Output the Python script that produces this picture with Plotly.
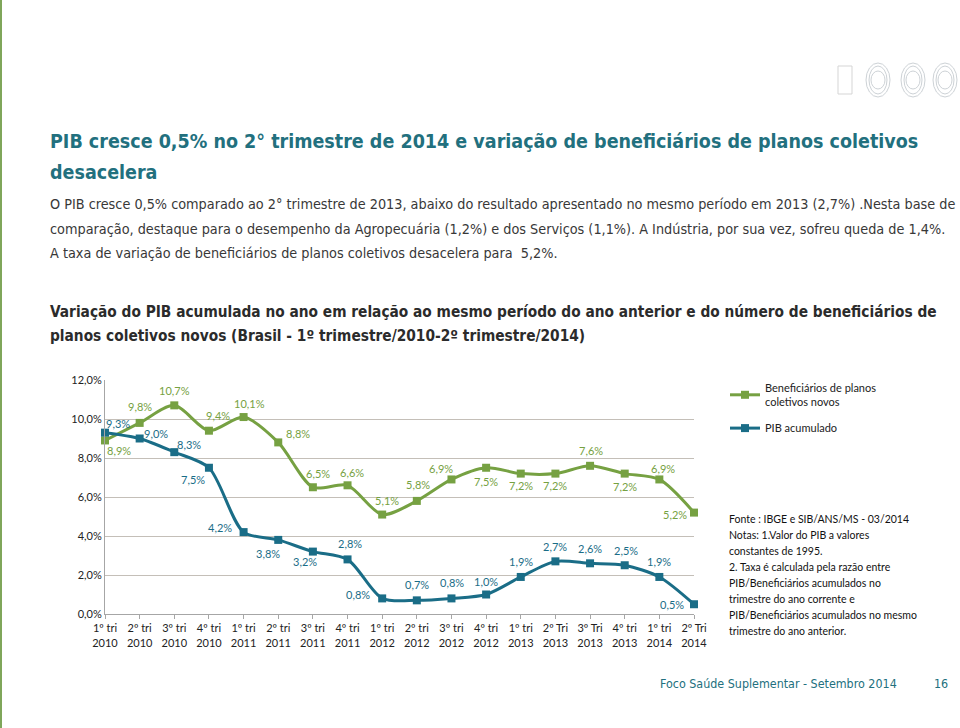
import plotly.graph_objects as go

# ---------------- data ----------------
quarters = ["1º tri", "2º tri", "3º tri", "4º tri",
            "1º tri", "2º tri", "3º tri", "4º tri",
            "1º tri", "2º tri", "3º tri", "4º tri",
            "1º tri", "2º Tri", "3º Tri", "4º tri",
            "1º tri", "2º Tri"]
years = ["2010"] * 4 + ["2011"] * 4 + ["2012"] * 4 + ["2013"] * 4 + ["2014"] * 2
beneficiarios = [8.9, 9.8, 10.7, 9.4, 10.1, 8.8, 6.5, 6.6, 5.1, 5.8,
                 6.9, 7.5, 7.2, 7.2, 7.6, 7.2, 6.9, 5.2]
pib = [9.3, 9.0, 8.3, 7.5, 4.2, 3.8, 3.2, 2.8, 0.8, 0.7,
       0.8, 1.0, 1.9, 2.7, 2.6, 2.5, 1.9, 0.5]
y_ticks = [0, 2, 4, 6, 8, 10, 12]
series_names = ["Beneficiários de planos<br>coletivos novos", "PIB acumulado"]

# label offsets in pixels (style only)
ben_off = [(14, 10), (0, -16), (0, -15), (9, -15), (6, -14), (20, -9), (5, -14), (4, -13),
           (5, -14), (1, -16), (-10, -11), (0, 14), (0, 12), (0, 12), (1, -15), (0, 13),
           (4, -11), (-19, 2)]
pib_off = [(13, -9), (16, -5), (15, -8), (-16, 12), (-24, -5), (-10, 14), (-8, 10), (2, -16),
           (-24, -4), (0, -16), (1, -16), (0, -13), (0, -15), (0, -15), (0, -15), (1, -15),
           (0, -15), (-22, 0)]

GREEN = "#76A142"
BLUE = "#1A6D87"
TEAL = "#22707E"

def fmt(v):
    return f"{v:.1f}".replace(".", ",") + "%"

x = list(range(len(quarters)))
ticktext = [f"{q}<br>{y}" for q, y in zip(quarters, years)]

# plot area in pixels
L, R, T, B = 105, 694, 380, 614
W, H = 960, 728

def px(xp):
    return (xp - L) / (R - L)

def py(yp):
    return (B - yp) / (B - T)

fig = go.Figure()
fig.add_trace(go.Scatter(
    x=x, y=beneficiarios, name=series_names[0], mode="lines+markers", legendgroup="a",
    line=dict(color=GREEN, width=3, shape="spline", smoothing=0.8),
    marker=dict(symbol="square", size=8, color=GREEN), cliponaxis=False))
fig.add_trace(go.Scatter(
    x=x, y=pib, name=series_names[1], mode="lines+markers", legendgroup="b",
    line=dict(color=BLUE, width=3, shape="spline", smoothing=0.8),
    marker=dict(symbol="square", size=8, color=BLUE), cliponaxis=False))

annotations = []
LBL_FONT = "Lato, 'Open Sans', sans-serif"
for i, v in enumerate(beneficiarios):
    dx, dy = ben_off[i]
    annotations.append(dict(x=i, y=v, xref="x", yref="y", text=fmt(v), showarrow=False,
                            xshift=dx, yshift=-dy,
                            font=dict(family=LBL_FONT, size=11, color=GREEN)))
for i, v in enumerate(pib):
    dx, dy = pib_off[i]
    annotations.append(dict(x=i, y=v, xref="x", yref="y", text=fmt(v), showarrow=False,
                            xshift=dx, yshift=-dy,
                            font=dict(family=LBL_FONT, size=11, color=BLUE)))

NARROW = "'DejaVu Sans Condensed', 'Liberation Sans', Arial, sans-serif"

def txt(text, xp, yp, size, color, family=NARROW, xanchor="left", yanchor="middle", align="left"):
    annotations.append(dict(x=px(xp), y=py(yp), xref="paper", yref="paper", text=text,
                            showarrow=False, xanchor=xanchor, yanchor=yanchor, align=align,
                            font=dict(family=family, size=size, color=color)))

# title
txt("<b>PIB cresce 0,5% no 2° trimestre de 2014 e variação de beneficiários de planos coletivos</b>",
    48, 141, 19.5, TEAL)
txt("<b>desacelera</b>", 48, 172, 19.5, TEAL)
# body
body = ["O PIB cresce 0,5% comparado ao 2° trimestre de 2013, abaixo do resultado apresentado no mesmo período em 2013 (2,7%) .Nesta base de",
        "comparação, destaque para o desempenho da Agropecuária (1,2%) e dos Serviços (1,1%). A Indústria, por sua vez, sofreu queda de 1,4%.",
        "A taxa de variação de beneficiários de planos coletivos desacelera para  5,2%."]
for k, line in enumerate(body):
    txt(line, 48, 204 + 24.5 * k, 14.3, "#383838")
# subtitle
txt("<b>Variação do PIB acumulada no ano em relação ao mesmo período do ano anterior e do número de beneficiários de</b>",
    48, 312, 15.3, "#2b2b2b")
txt("<b>planos coletivos novos (Brasil - 1º trimestre/2010-2º trimestre/2014)</b>",
    48, 336, 15.3, "#2b2b2b")
# notes
notes = ["Fonte : IBGE e SIB/ANS/MS - 03/2014",
         "Notas: 1.Valor do PIB a valores",
         "constantes de 1995.",
         "2. Taxa é calculada pela razão entre",
         "PIB/Beneficiários acumulados no",
         "trimestre do ano corrente e",
         "PIB/Beneficiários acumulados no mesmo",
         "trimestre do ano anterior."]
for k, line in enumerate(notes):
    txt(line, 727, 519 + 16 * k, 10.5, "#111111", family=LBL_FONT)
# footer
txt("Foco Saúde Suplementar - Setembro 2014", 658, 683, 12.4, TEAL)
txt("16", 932, 683, 12.4, TEAL)

shapes = [
    dict(type="line", xref="paper", yref="paper", x0=px(1), x1=px(1), y0=py(0), y1=py(728),
         line=dict(color="#7FA65A", width=2)),
]
# decorative logo circles at top right
for cx in [878, 913, 945]:
    for rx, ry in [(12, 17), (9, 14), (7, 9)]:
        shapes.append(dict(type="circle", xref="paper", yref="paper",
                           x0=px(cx - rx), x1=px(cx + rx), y0=py(80 - ry), y1=py(80 + ry),
                           line=dict(color="#CDD2D6", width=1)))
shapes.append(dict(type="rect", xref="paper", yref="paper",
                   x0=px(838), x1=px(852), y0=py(66), y1=py(94),
                   line=dict(color="#D5D5D5", width=1)))

fig.update_layout(
    width=W, height=H,
    margin=dict(l=L, r=W - R, t=T, b=H - B),
    paper_bgcolor="white", plot_bgcolor="white",
    showlegend=True,
    legend=dict(x=px(725), y=py(374), xanchor="left", yanchor="top",
                font=dict(family=LBL_FONT, size=11, color="#222222"),
                bgcolor="rgba(0,0,0,0)", tracegroupgap=8, traceorder="grouped"),
    annotations=annotations, shapes=shapes,
    xaxis=dict(range=[0, 17], tickvals=x, ticktext=ticktext, showgrid=False,
               showline=True, linecolor="#A6A6A6", linewidth=1,
               ticks="outside", ticklen=4, tickcolor="#A6A6A6",
               tickfont=dict(family=LBL_FONT, size=11, color="#222222"), zeroline=False),
    yaxis=dict(range=[0, 12], tickvals=y_ticks, ticktext=[fmt(v) for v in y_ticks],
               showgrid=True, gridcolor="#C4BFB8", gridwidth=1,
               showline=True, linecolor="#A6A6A6", linewidth=1, zeroline=False,
               tickfont=dict(family=LBL_FONT, size=11, color="#222222"), ticks=""),
)

fig.write_html("out.html", config={"displayModeBar": False},
               post_script="document.body.style.margin='0';")
